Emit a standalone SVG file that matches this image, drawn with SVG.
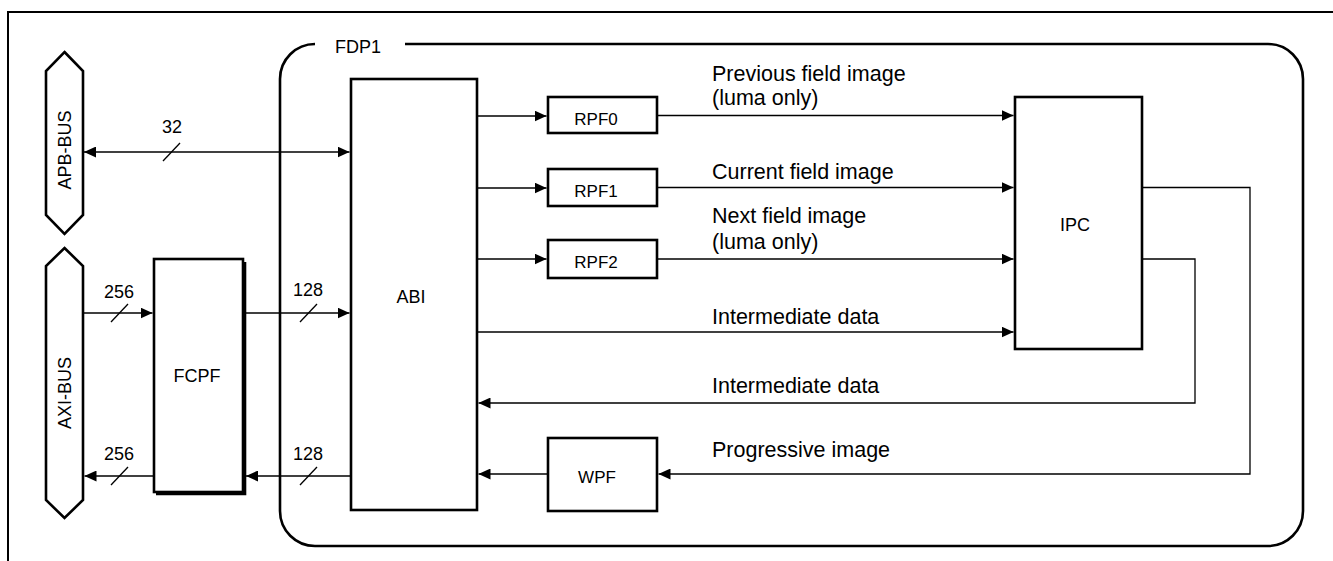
<svg xmlns="http://www.w3.org/2000/svg" width="1333" height="561" viewBox="0 0 1333 561">
  <style>
    .box { fill: #fff; stroke: #000; stroke-width: 2.6; }
    .frame { fill: none; stroke: #000; stroke-width: 2.6; }
    .conn { fill: none; stroke: #000; stroke-width: 1.3; }
    .lbl { font-family: "Liberation Sans", Arial, sans-serif; font-size: 18px; fill: #000; }
    .flow { font-family: "Liberation Sans", Arial, sans-serif; font-size: 21.5px; fill: #000; }
    .mid { text-anchor: middle; }
  </style>
  <defs>
    <marker id="ah" viewBox="0 0 12 11" refX="12" refY="5.5" markerWidth="12" markerHeight="11" markerUnits="userSpaceOnUse" orient="auto-start-reverse">
      <path d="M0,0 L12,5.5 L0,11 z" fill="#000"/>
    </marker>
  </defs>
  <rect width="1333" height="561" fill="#fff"/>

  <!-- outer page frame -->
  <path d="M8,561 V12 H1333" fill="none" stroke="#000" stroke-width="2"/>

  <!-- FDP1 container -->
  <g id="fdp1">
    <path class="frame" d="M405,44 H1268 A35,35 0 0 1 1303,79 V511 A35,35 0 0 1 1268,546 H315 A35,35 0 0 1 280,511 V79 A35,35 0 0 1 315,44"/>
    <text class="lbl" x="335" y="53">FDP1</text>
  </g>

  <g id="apb-bus">
    <polygon class="box" points="64.5,52 83,71 83,215 64.5,234 46,215 46,71"/>
    <text class="lbl mid" transform="translate(71,150) rotate(-90)">APB-BUS</text>
  </g>

  <g id="axi-bus">
    <polygon class="box" points="64.5,248 83,266 83,500 64.5,518 46,500 46,266"/>
    <text class="lbl mid" transform="translate(71,393) rotate(-90)">AXI-BUS</text>
  </g>

  <g id="fcpf">
    <path d="M245,262 V494 H156" fill="none" stroke="#000" stroke-width="2.6"/>
    <rect class="box" x="154" y="259" width="89" height="233"/>
    <text class="lbl mid" x="197" y="382">FCPF</text>
  </g>

  <g id="abi">
    <rect class="box" x="351" y="79" width="126" height="431"/>
    <text class="lbl mid" x="411" y="303">ABI</text>
  </g>

  <g id="rpf0">
    <rect class="box" x="548" y="97" width="109" height="36"/>
    <text class="lbl mid" x="596" y="125" style="font-size:17px">RPF0</text>
  </g>
  <g id="rpf1">
    <rect class="box" x="548" y="169" width="109" height="37"/>
    <text class="lbl mid" x="596" y="197" style="font-size:17px">RPF1</text>
  </g>
  <g id="rpf2">
    <rect class="box" x="548" y="240" width="109" height="38"/>
    <text class="lbl mid" x="596" y="268" style="font-size:17px">RPF2</text>
  </g>

  <g id="wpf">
    <rect class="box" x="548" y="438" width="109" height="73"/>
    <text class="lbl mid" x="597" y="483" style="font-size:17px">WPF</text>
  </g>

  <g id="ipc">
    <rect class="box" x="1015" y="97" width="127" height="252"/>
    <text class="lbl mid" x="1075" y="231">IPC</text>
  </g>

  <g id="connectors">
    <path class="conn" d="M84,152 H349.5" marker-start="url(#ah)" marker-end="url(#ah)"/>
    <path class="conn" d="M163,161 L180,143"/>
    <text class="lbl mid" x="172" y="133">32</text>

    <path class="conn" d="M83,313 H152.5" marker-end="url(#ah)"/>
    <path class="conn" d="M111,322 L128,304"/>
    <text class="lbl mid" x="119" y="298">256</text>

    <path class="conn" d="M244,313 H349.5" marker-end="url(#ah)"/>
    <path class="conn" d="M300,322 L317,304"/>
    <text class="lbl mid" x="308" y="296">128</text>

    <path class="conn" d="M351,476 H246" marker-end="url(#ah)"/>
    <path class="conn" d="M300,485 L317,467"/>
    <text class="lbl mid" x="308" y="460">128</text>

    <path class="conn" d="M154,476 H84.5" marker-end="url(#ah)"/>
    <path class="conn" d="M111,485 L128,467"/>
    <text class="lbl mid" x="119" y="460">256</text>

    <path class="conn" d="M477,116 H546.5" marker-end="url(#ah)"/>
    <path class="conn" d="M477,188 H546.5" marker-end="url(#ah)"/>
    <path class="conn" d="M477,259 H546.5" marker-end="url(#ah)"/>

    <path class="conn" d="M657,115.5 H1013.5" marker-end="url(#ah)"/>
    <path class="conn" d="M657,187.5 H1013.5" marker-end="url(#ah)"/>
    <path class="conn" d="M657,259 H1013.5" marker-end="url(#ah)"/>
    <path class="conn" d="M477,332 H1013.5" marker-end="url(#ah)"/>

    <path class="conn" d="M1142,259 H1195 V403 H478.5" marker-end="url(#ah)"/>
    <path class="conn" d="M1142,187.5 H1250 V474 H658.5" marker-end="url(#ah)"/>
    <path class="conn" d="M548,474 H478.5" marker-end="url(#ah)"/>

    <text class="flow" x="712" y="81">Previous field image</text>
    <text class="flow" x="712" y="105">(luma only)</text>
    <text class="flow" x="712" y="179">Current field image</text>
    <text class="flow" x="712" y="223">Next field image</text>
    <text class="flow" x="712" y="249">(luma only)</text>
    <text class="flow" x="712" y="324">Intermediate data</text>
    <text class="flow" x="712" y="393">Intermediate data</text>
    <text class="flow" x="712" y="457">Progressive image</text>
  </g>
</svg>
